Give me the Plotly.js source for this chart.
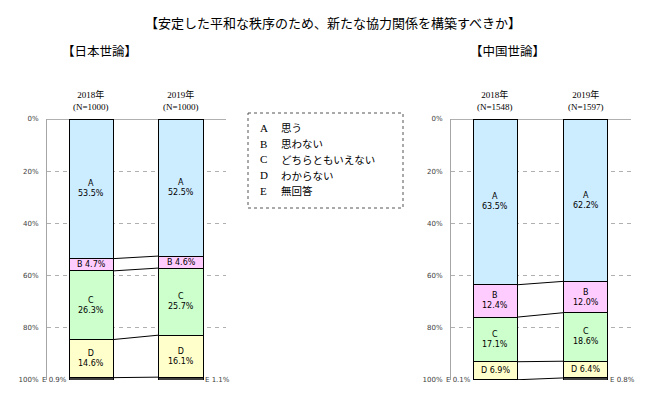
<!DOCTYPE html>
<html>
<head>
<meta charset="utf-8">
<script src="https://cdn.plot.ly/plotly-3.0.1.min.js"></script>
<style>html,body{margin:0;padding:0;background:#fff;}#chart{width:670px;height:394px;}</style>
</head>
<body>
<div id="chart"></div>
<script>
// ---- data ----
const segments = ['A', 'B', 'C', 'D', 'E'];
const legendLabels = ['思う', '思わない', 'どちらともいえない', 'わからない', '無回答'];
const years = ['2018年', '2019年'];
const jpN = ['(N=1000)', '(N=1000)'];
const cnN = ['(N=1548)', '(N=1597)'];
const jpA = [53.5, 52.5];
const jpB = [4.7, 4.6];
const jpC = [26.3, 25.7];
const jpD = [14.6, 16.1];
const jpE = [0.9, 1.1];
const cnA = [63.5, 62.2];
const cnB = [12.4, 12.0];
const cnC = [17.1, 18.6];
const cnD = [6.9, 6.4];
const cnE = [0.1, 0.8];
const segColors = ['#CCECFF', '#FFCCFF', '#CCFFCC', '#FFFFCC', '#404040'];
const titleText = '【安定した平和な秩序のため、新たな協力関係を構築すべきか】';
const jpTitle = '【日本世論】';
const cnTitle = '【中国世論】';

// ---- layout helpers ----
const W = 670, H = 394;
const px = v => v / W;
const py = v => 1 - v / H;
const BW = 0.49;
const NUMFONT = 'DejaVu Sans, Verdana, sans-serif';
const JPFONT = 'Noto Sans CJK JP, sans-serif';

const traces = [];
const annotations = [];
const shapes = [];

function panel(series, nLabels, xa, ya) {
  const xs = [0, 1];
  series.forEach((vals, si) => {
    traces.push({
      type: 'bar', x: xs, y: vals, width: BW,
      xaxis: xa, yaxis: ya,
      marker: {color: segColors[si], line: {color: '#000', width: 1}},
      hoverinfo: 'skip', showlegend: false
    });
  });
  const xref = xa, yref = ya;
  const cum = [0, 0];
  const bounds = [[], []];
  series.forEach((vals, si) => {
    vals.forEach((v, i) => {
      const mid = cum[i] + v / 2;
      if (si < 4) {
        const txt = v < 10 ? segments[si] + ' ' + v.toFixed(1) + '%' : segments[si] + '<br>' + v.toFixed(1) + '%';
        annotations.push({xref: xref, yref: yref, x: xs[i], y: mid, text: txt, showarrow: false,
          xanchor: 'center', yanchor: 'middle',
          font: {family: NUMFONT, size: 8, color: '#000'}});
      } else {
        annotations.push({xref: xref, yref: yref, x: i === 0 ? xs[i] - BW / 2 : xs[i] + BW / 2, y: 100,
          xanchor: i === 0 ? 'right' : 'left', yanchor: 'middle',
          text: segments[si] + ' ' + v.toFixed(1) + '%', showarrow: false,
          font: {family: NUMFONT, size: 7, color: '#404040'}});
      }
      cum[i] += v;
      bounds[i].push(cum[i]);
    });
  });
  for (let k = 0; k < series.length - 1; k++) {
    traces.push({
      type: 'scatter', mode: 'lines', xaxis: xa, yaxis: ya,
      x: [xs[0] + BW / 2, xs[1] - BW / 2], y: [bounds[0][k], bounds[1][k]],
      line: {color: '#000', width: 1}, hoverinfo: 'skip', showlegend: false
    });
  }
  xs.forEach((x, i) => {
    annotations.push({xref: xref, yref: 'paper', x: x, y: py(100.5), text: years[i] + '<br>' + nLabels[i],
      showarrow: false, xanchor: 'center', yanchor: 'middle',
      font: {family: 'Liberation Serif, Noto Sans CJK JP, serif', size: 9, color: '#000'}});
  });
}

panel([jpA, jpB, jpC, jpD, jpE], jpN, 'x', 'y');
panel([cnA, cnB, cnC, cnD, cnE], cnN, 'x2', 'y2');

annotations.push({xref: 'paper', yref: 'paper', x: px(333), y: py(22), text: titleText, showarrow: false,
  xanchor: 'center', yanchor: 'middle', font: {family: JPFONT, size: 13, color: '#000'}});
annotations.push({xref: 'paper', yref: 'paper', x: px(99), y: py(50), text: jpTitle, showarrow: false,
  xanchor: 'center', yanchor: 'middle', font: {family: JPFONT, size: 12.5, color: '#000'}});
annotations.push({xref: 'paper', yref: 'paper', x: px(507), y: py(50), text: cnTitle, showarrow: false,
  xanchor: 'center', yanchor: 'middle', font: {family: JPFONT, size: 12.5, color: '#000'}});

shapes.push({type: 'rect', xref: 'paper', yref: 'paper', x0: px(248), x1: px(403), y0: py(113), y1: py(208),
  line: {color: '#555', width: 1, dash: 'dot'}, fillcolor: 'rgba(0,0,0,0)'});
segments.forEach((s, i) => {
  const yy = py(128 + i * 15.7);
  annotations.push({xref: 'paper', yref: 'paper', x: px(258), y: yy, xanchor: 'left', yanchor: 'middle', text: s, showarrow: false,
    font: {family: 'Liberation Serif, serif', size: 11, color: '#000'}});
  annotations.push({xref: 'paper', yref: 'paper', x: px(279), y: yy, xanchor: 'left', yanchor: 'middle', text: legendLabels[i], showarrow: false,
    font: {family: JPFONT, size: 10.5, color: '#000'}});
});

const yaxisBase = {
  range: [100, 0], tickvals: [0, 20, 40, 60, 80, 100], ticktext: ['0%', '20%', '40%', '60%', '80%', '100%'],
  showgrid: true, gridcolor: '#b0b0b0', griddash: '4px,4px', gridwidth: 1,
  zeroline: true, zerolinecolor: '#b0b0b0', zerolinewidth: 1,
  showline: true, linecolor: '#a6a6a6', linewidth: 1, ticks: '',
  ticklabelstandoff: 6,
  tickfont: {family: NUMFONT, size: 7, color: '#404040'}, fixedrange: true
};
const xaxisBase = {range: [-0.49, 1.5], showgrid: false, zeroline: false, showticklabels: false, showline: false, ticks: '', fixedrange: true};

const layout = {
  width: W, height: H, margin: {l: 0, r: 0, t: 0, b: 0},
  paper_bgcolor: '#fff', plot_bgcolor: 'rgba(0,0,0,0)',
  barmode: 'stack', showlegend: false,
  xaxis: Object.assign({}, xaxisBase, {domain: [px(47), px(226)], anchor: 'y'}),
  yaxis: Object.assign({}, yaxisBase, {domain: [py(380), py(119)], anchor: 'x'}),
  xaxis2: Object.assign({}, xaxisBase, {domain: [px(451), px(631)], anchor: 'y2'}),
  yaxis2: Object.assign({}, yaxisBase, {domain: [py(380), py(119)], anchor: 'x2'}),
  annotations: annotations, shapes: shapes
};

Plotly.newPlot('chart', traces, layout, {displayModeBar: false, staticPlot: true});
</script>
</body>
</html>
